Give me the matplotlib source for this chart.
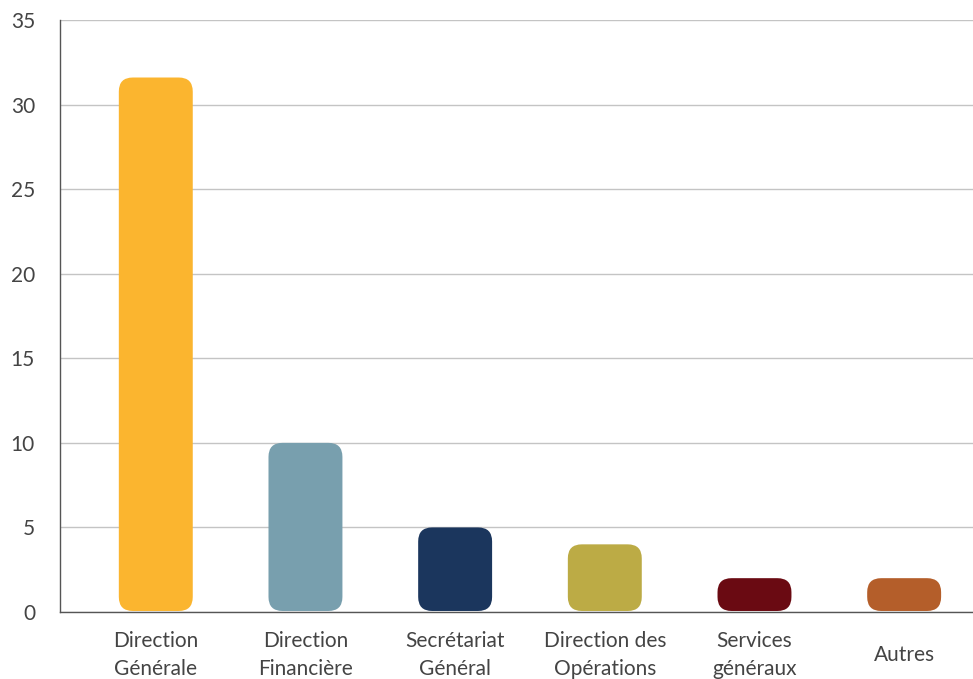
import matplotlib
matplotlib.use("Agg")
import matplotlib.pyplot as plt
from matplotlib.patches import FancyBboxPatch

categories = ["Direction\nGénérale", "Direction\nFinancière", "Secrétariat\nGénéral",
              "Direction des\nOpérations", "Services\ngénéraux", "Autres"]
values = [31.6, 10.0, 5.0, 4.0, 2.0, 2.0]
colors = ["#FBB52F", "#789FAE", "#1B365D", "#BCAB45", "#6A0A12", "#B45E2A"]
yticks = [0, 5, 10, 15, 20, 25, 30, 35]

plt.rcParams['font.family'] = ['Lato', 'DejaVu Sans']

W, H = 973, 679
fig = plt.figure(figsize=(W / 100, H / 100), dpi=100)
left, right, top, bottom = 60, 973, 20, 612
ax = fig.add_axes([left / W, 1 - bottom / H, (right - left) / W, (bottom - top) / H])

xmin, xmax = -0.64, 5.46
ax.set_xlim(xmin, xmax)
ax.set_ylim(0, 35)

bw = 0.494
px_per_x = (right - left) / (xmax - xmin)
px_per_y = (bottom - top) / 35.0
aspect = (1 / px_per_y) / (1 / px_per_x)

bars = ax.bar(range(len(values)), values, width=bw, color=colors)
for b, c in zip(bars, colors):
    x0, w = b.get_x(), b.get_width()
    h = b.get_height()
    b.set_visible(False)
    r_px = min(14, h * px_per_y / 2 - 0.5)
    r = r_px / px_per_x
    p = FancyBboxPatch((x0, 0.06), w, h - 0.06,
                       boxstyle=f"round,pad=0,rounding_size={r}",
                       mutation_aspect=aspect, facecolor=c, edgecolor='none', zorder=3)
    ax.add_patch(p)

ax.set_yticks(yticks)
ax.set_yticklabels([str(t) for t in yticks])
ax.set_xticks(range(len(categories)))
ax.set_xticklabels(categories, linespacing=1.45)
for lab in ax.get_xticklabels():
    lab.set_verticalalignment('center')
ax.tick_params(axis='x', length=0, pad=31, labelsize=15, labelcolor='#444444')
ax.tick_params(axis='y', length=0, pad=18, labelsize=15, labelcolor='#444444')

ax.grid(axis='y', color='#c4c4c4', linewidth=1)
ax.set_axisbelow(True)
for s in ['top', 'right']:
    ax.spines[s].set_visible(False)
for s in ['left', 'bottom']:
    ax.spines[s].set_color('#555555')
    ax.spines[s].set_linewidth(1)
    ax.spines[s].set_zorder(4)

fig.savefig("out.png", dpi=100)
